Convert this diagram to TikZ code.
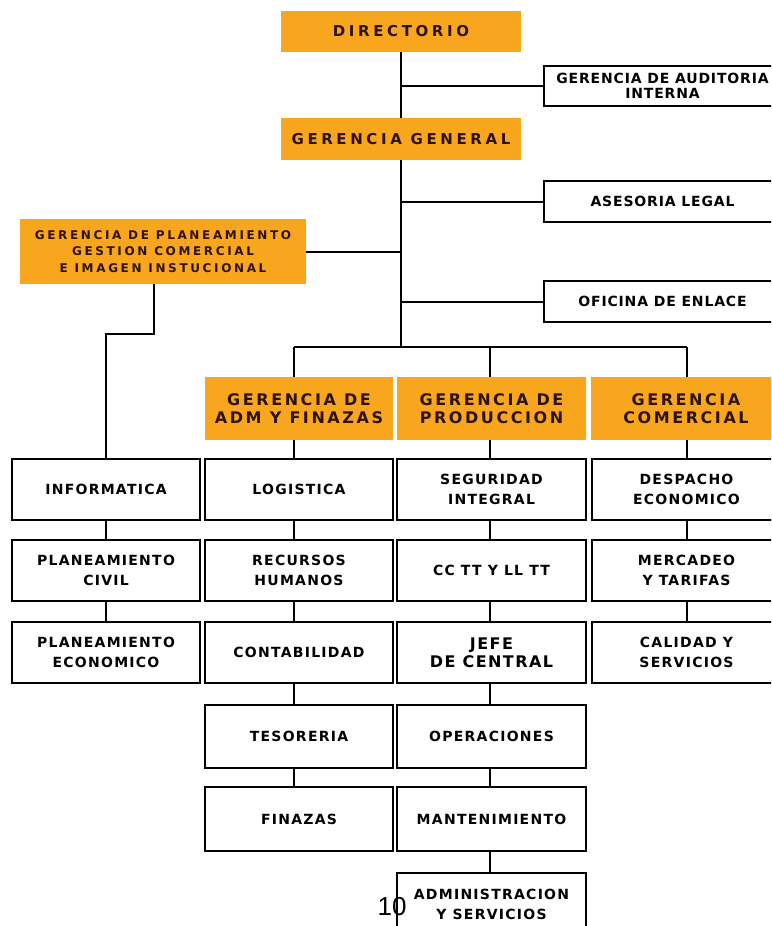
\documentclass[tikz,border=0pt]{standalone}
\usepackage{fontspec}
\setmainfont{DejaVu Sans}
\newfontfamily\fhdr{DejaVu Sans}[LetterSpace=24]
\newfontfamily\fmid{DejaVu Sans}[LetterSpace=16]
\newfontfamily\fplan{DejaVu Sans}[LetterSpace=22]
\newfontfamily\fwbx{DejaVu Sans}[LetterSpace=9]
\newfontfamily\fside{DejaVu Sans}[LetterSpace=6]
\newfontfamily\fnum{Liberation Sans}
\definecolor{org}{RGB}{248,166,30}
\definecolor{txt}{RGB}{45,18,6}
\newcommand\boxat[7]{\node[#1, minimum width={#5-#3}, minimum height={#6-#4}] (#2) at ({(#3+#5)/2},{(#4+#6)/2}) {#7};}
\tikzset{
  orgbase/.style={fill=org, draw=none, text=txt, inner sep=0pt, align=center},
  hdrbox/.style={orgbase, font=\fhdr\bfseries\fontsize{15}{17}\selectfont},
  midbox/.style={orgbase, font=\fmid\bfseries\fontsize{16}{17.5}\selectfont},
  planbox/.style={orgbase, font=\fplan\bfseries\fontsize{12}{16.5}\selectfont},
  wbase/.style={draw=black, line width=2.4pt, fill=white, inner sep=0pt, align=center, text=black},
  wbox/.style={wbase, font=\fwbx\bfseries\fontsize{14}{20}\selectfont},
  bigbox/.style={wbase, font=\fwbx\bfseries\fontsize{16}{18}\selectfont},
  sidebox/.style={wbase, font=\fside\bfseries\fontsize{14}{15}\selectfont},
  conn/.style={line width=2pt, draw=black}
}
\begin{document}
\begin{tikzpicture}[x=1pt,y=-1pt]
\useasboundingbox (0,0) rectangle (771,926);
\clip (0,0) rectangle (771,926);
\fill[white] (0,0) rectangle (771,926);

% top level
\boxat{hdrbox}{dir}{281}{11}{521}{52}{DIRECTORIO}
\boxat{sidebox}{aud}{544}{66}{781}{106}{GERENCIA DE AUDITORIA\\INTERNA}
\boxat{hdrbox}{gg}{281}{118}{521}{160}{GERENCIA GENERAL}
\boxat{sidebox}{ase}{544}{181}{781}{222}{ASESORIA LEGAL}
\boxat{sidebox}{ofi}{544}{281}{781}{322}{OFICINA DE ENLACE}
\boxat{planbox}{plan}{20}{219}{306}{284}{GERENCIA DE PLANEAMIENTO\\GESTION COMERCIAL\\E IMAGEN INSTUCIONAL}

% gerencias
\boxat{midbox}{adm}{205}{377}{393}{440}{GERENCIA DE\\ADM Y FINAZAS}
\boxat{midbox}{prod}{397}{377}{586}{440}{GERENCIA DE\\PRODUCCION}
\boxat{midbox}{com}{591}{377}{781}{440}{GERENCIA\\COMERCIAL}

% column 1
\boxat{wbox}{inf}{12}{459}{200}{520}{INFORMATICA}
\boxat{wbox}{pciv}{12}{540}{200}{601}{PLANEAMIENTO\\CIVIL}
\boxat{wbox}{peco}{12}{622}{200}{683}{PLANEAMIENTO\\ECONOMICO}

% column 2
\boxat{wbox}{log}{205}{459}{393}{520}{LOGISTICA}
\boxat{wbox}{rrhh}{205}{540}{393}{601}{RECURSOS\\HUMANOS}
\boxat{wbox}{cont}{205}{622}{393}{683}{CONTABILIDAD}
\boxat{wbox}{tes}{205}{705}{393}{768}{TESORERIA}
\boxat{wbox}{fin}{205}{787}{393}{851}{FINAZAS}

% column 3
\boxat{wbox}{seg}{397}{459}{586}{520}{SEGURIDAD\\INTEGRAL}
\boxat{wbox}{cctt}{397}{540}{586}{601}{CC TT Y LL TT}
\boxat{bigbox}{jefe}{397}{622}{586}{683}{JEFE\\DE CENTRAL}
\boxat{wbox}{ope}{397}{705}{586}{768}{OPERACIONES}
\boxat{wbox}{mant}{397}{787}{586}{851}{MANTENIMIENTO}
\boxat{wbox}{admser}{397}{873}{586}{936}{ADMINISTRACION\\Y SERVICIOS}

% column 4
\boxat{wbox}{desp}{592}{459}{781}{520}{DESPACHO\\ECONOMICO}
\boxat{wbox}{merc}{592}{540}{781}{601}{MERCADEO\\Y TARIFAS}
\boxat{wbox}{cal}{592}{622}{781}{683}{CALIDAD Y\\SERVICIOS}

% connectors
\coordinate (busm) at (401,347);
\coordinate (cA) at (294,347);
\coordinate (cB) at (490,347);
\coordinate (cC) at (687,347);
\coordinate (pk) at (154,334);

\draw[conn] (dir.south) -- (gg.north);
\draw[conn] (aud.west) -- (aud.west -| dir.south);
\draw[conn] (gg.south) -- (busm);
\draw[conn] (ase.west) -- (ase.west -| gg.south);
\draw[conn] (ofi.west) -- (ofi.west -| gg.south);
\draw[conn] (plan.east) -- (plan.east -| gg.south);
\draw[conn] (plan.south -| pk) -- (pk) -| (inf.north);
\draw[conn] (cA) -- (cC);
\draw[conn] (cA) -- (adm.north -| cA);
\draw[conn] (cB) -- (prod.north -| cB);
\draw[conn] (cC) -- (com.north -| cC);

\draw[conn] (inf.south) -- (pciv.north);
\draw[conn] (pciv.south) -- (peco.north);

\draw[conn] (adm.south -| cA) -- (log.north -| cA);
\draw[conn] (log.south -| cA) -- (rrhh.north -| cA);
\draw[conn] (rrhh.south -| cA) -- (cont.north -| cA);
\draw[conn] (cont.south -| cA) -- (tes.north -| cA);
\draw[conn] (tes.south -| cA) -- (fin.north -| cA);

\draw[conn] (prod.south -| cB) -- (seg.north -| cB);
\draw[conn] (seg.south -| cB) -- (cctt.north -| cB);
\draw[conn] (cctt.south -| cB) -- (jefe.north -| cB);
\draw[conn] (jefe.south -| cB) -- (ope.north -| cB);
\draw[conn] (ope.south -| cB) -- (mant.north -| cB);
\draw[conn] (mant.south -| cB) -- (admser.north -| cB);

\draw[conn] (com.south -| cC) -- (desp.north -| cC);
\draw[conn] (desp.south -| cC) -- (merc.north -| cC);
\draw[conn] (merc.south -| cC) -- (cal.north -| cC);

% page number
\node[font=\fnum\fontsize{26}{28}\selectfont, inner sep=0pt] (pnum) at (392,907) {10};
\end{tikzpicture}
\end{document}
